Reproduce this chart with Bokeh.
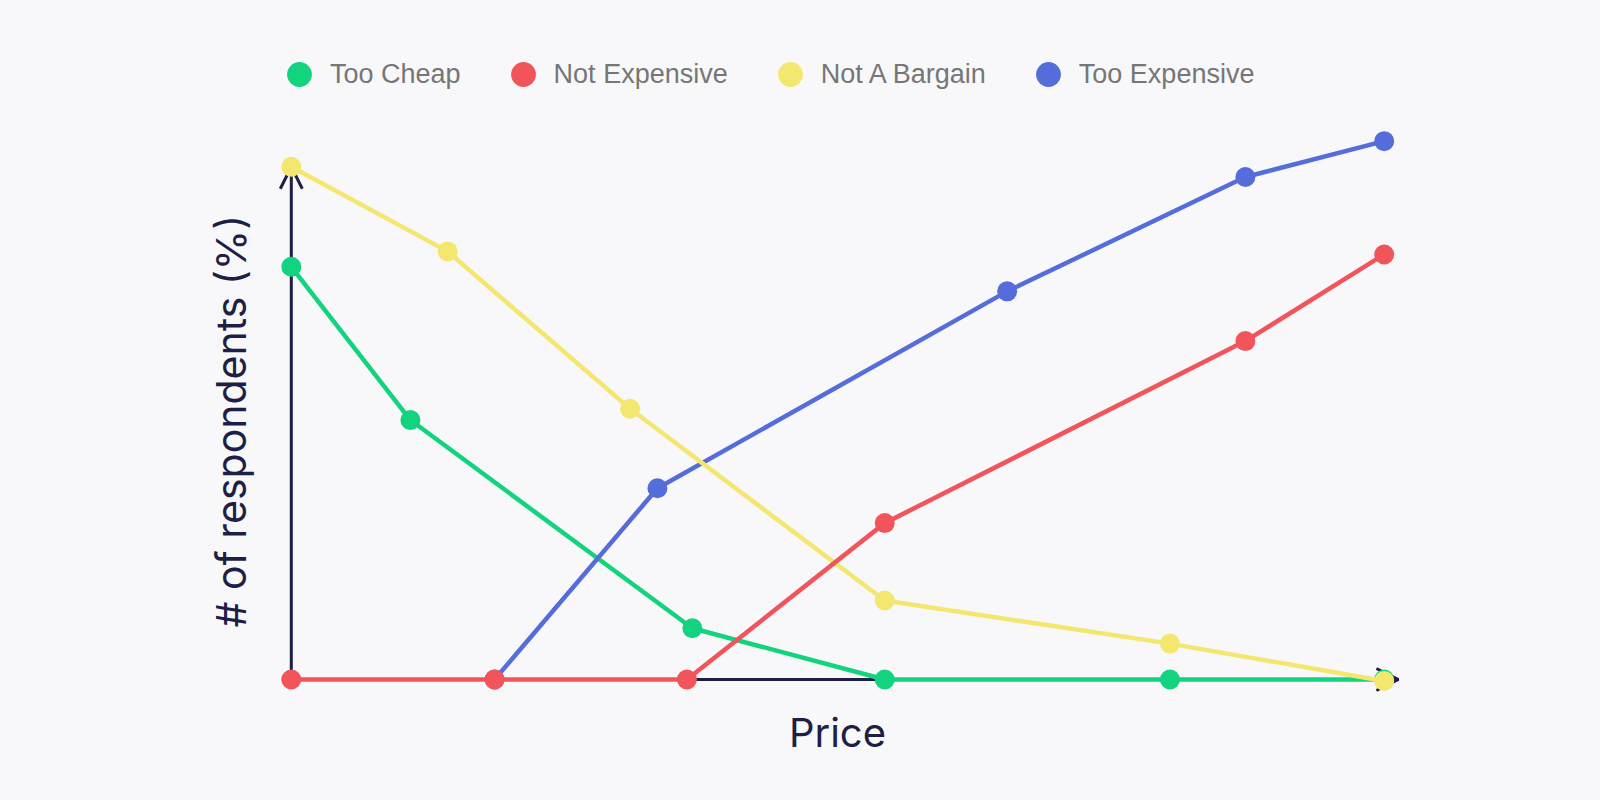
from bokeh.plotting import figure
from bokeh.models import Range1d, Arrow, OpenHead, Legend, LegendItem, FixedTicker, Title
from bokeh.embed import file_html
from bokeh.resources import INLINE

# ---- data (price index 0..100, % of respondents) ----
too_cheap_x = [0, 10.9, 36.7, 54.3, 80.4, 100]
too_cheap_y = [80.5, 50.6, 10.0, 0, 0, 0]

not_expensive_x = [0, 18.6, 36.2, 54.3, 87.3, 100]
not_expensive_y = [0, 0, 0, 30.5, 66.0, 82.9]

not_bargain_x = [0, 14.3, 31.0, 54.3, 80.4, 100]
not_bargain_y = [100, 83.5, 52.8, 15.4, 7.0, -0.3]

too_expensive_x = [18.6, 33.5, 65.5, 87.3, 100]
too_expensive_y = [0, 37.3, 75.7, 98.0, 105.0]

series_names = ["Too Cheap", "Not Expensive", "Not A Bargain", "Too Expensive"]

# ---- styles ----
BG = "#f8f8fa"
AXIS = "#1e1e46"
GREEN = "#13d37f"
RED = "#f2545b"
YELLOW = "#f3e770"
BLUE = "#556ddb"
LEGEND_TEXT = "#767676"

p = figure(
    width=1584, height=784,
    x_range=Range1d(-2.635, 102.59),
    y_range=Range1d(-2.926, 128.53),
    output_backend="svg", toolbar_location=None,
    min_border_left=262, min_border_right=172,
    min_border_top=20, min_border_bottom=90,
    background_fill_color=BG, border_fill_color=BG,
    outline_line_color=None,
)
p.grid.visible = False
p.yaxis.visible = False
p.xaxis.ticker = FixedTicker(ticks=[])
p.xaxis.axis_line_color = None
p.xaxis.major_tick_line_color = None
p.xaxis.minor_tick_line_color = None
p.xaxis.axis_label = "Price"
p.xaxis.axis_label_text_font = "Inter"
p.xaxis.axis_label_text_font_size = "40px"
p.xaxis.axis_label_text_font_style = "normal"
p.xaxis.axis_label_text_color = AXIS
p.xaxis.axis_label_standoff = 13

# axes with arrow heads (drawn beneath the series)
p.add_layout(Arrow(end=OpenHead(size=22, line_color=AXIS, line_width=3),
                   x_start=0, y_start=0, x_end=101.3, y_end=0,
                   line_color=AXIS, line_width=3, level="underlay"))
p.add_layout(Arrow(end=OpenHead(size=22, line_color=AXIS, line_width=3),
                   x_start=0, y_start=0, x_end=0, y_end=100,
                   line_color=AXIS, line_width=3, level="underlay"))

# series (draw order: green, blue, yellow, red)
LW = 4.5
p.line(too_cheap_x, too_cheap_y, line_color=GREEN, line_width=LW)
g_sc = p.scatter(too_cheap_x, too_cheap_y, size=20, fill_color=GREEN, line_color=None)

p.line(too_expensive_x, too_expensive_y, line_color=BLUE, line_width=LW)
b_sc = p.scatter(too_expensive_x, too_expensive_y, size=20, fill_color=BLUE, line_color=None)

p.line(not_bargain_x, not_bargain_y, line_color=YELLOW, line_width=LW)
y_sc = p.scatter(not_bargain_x, not_bargain_y, size=20, fill_color=YELLOW, line_color=None)

p.line(not_expensive_x, not_expensive_y, line_color=RED, line_width=LW)
r_sc = p.scatter(not_expensive_x, not_expensive_y, size=20, fill_color=RED, line_color=None)

legend = Legend(
    items=[LegendItem(label=series_names[0], renderers=[g_sc]),
           LegendItem(label=series_names[1], renderers=[r_sc]),
           LegendItem(label=series_names[2], renderers=[y_sc]),
           LegendItem(label=series_names[3], renderers=[b_sc])],
    orientation="horizontal", location=(6, 585),
    glyph_width=62, glyph_height=70, label_standoff=0, spacing=31,
    padding=0, margin=0, border_line_color=None, background_fill_alpha=0,
    label_text_font="Liberation Sans", label_text_font_size="27px",
    label_text_color=LEGEND_TEXT,
)
p.add_layout(legend)

p.add_layout(Title(text="# of respondents (%)", align="left", offset=67, standoff=13,
                   text_font="Inter", text_font_size="41px", text_font_style="normal",
                   text_color=AXIS), "left")

html = file_html(p, INLINE).replace(
    "<head>", "<head><style>html, body { background-color: #f8f8fa; }</style>", 1)
open("out.html", "w").write(html)
